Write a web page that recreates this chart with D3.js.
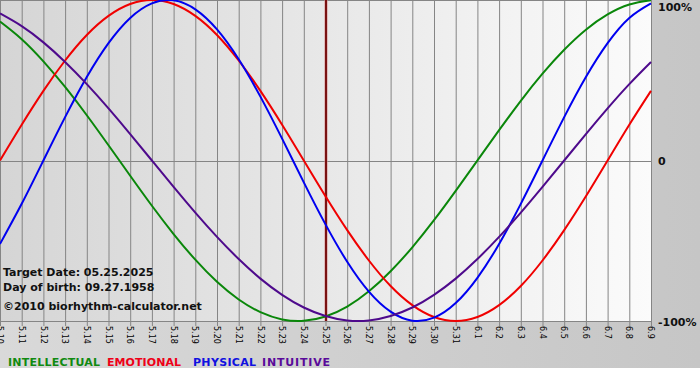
<!DOCTYPE html>
<html><head><meta charset="utf-8">
<script src="https://cdn.jsdelivr.net/npm/d3@7"></script>
<style>html,body{margin:0;padding:0;background:#fff;}svg{display:block;}</style>
</head><body>
<script>
const days = ["5.10","5.11","5.12","5.13","5.14","5.15","5.16","5.17","5.18","5.19","5.20","5.21","5.22","5.23","5.24","5.25","5.26","5.27","5.28","5.29","5.30","5.31","6.1","6.2","6.3","6.4","6.5","6.6","6.7","6.8","6.9"];
const intellectual = [86.6,75.6,61.8,45.8,28.2,9.5,-9.5,-28.2,-45.8,-61.8,-75.6,-86.6,-94.5,-99.0,-99.9,-97.2,-91.0,-81.5,-69.0,-54.1,-37.2,-18.9,0,18.9,37.2,54.1,69.0,81.5,91.0,97.2,99.9];
const emotional = [0,22.3,43.4,62.3,78.2,90.1,97.5,100,97.5,90.1,78.2,62.3,43.4,22.3,0,-22.3,-43.4,-62.3,-78.2,-90.1,-97.5,-100,-97.5,-90.1,-78.2,-62.3,-43.4,-22.3,0,22.3,43.4];
const physical = [-52.0,-27.0,0,27.0,52.0,73.1,88.8,97.9,99.8,94.2,81.7,63.1,39.8,13.6,-13.6,-39.8,-63.1,-81.7,-94.2,-99.8,-97.9,-88.8,-73.1,-52.0,-27.0,0,27.0,52.0,73.1,88.8,97.9];
const intuitive = [91.6,83.7,73.6,61.4,47.6,32.5,16.5,0,-16.5,-32.5,-47.6,-61.4,-73.6,-83.7,-91.6,-96.9,-99.7,-99.7,-96.9,-91.6,-83.7,-73.6,-61.4,-47.6,-32.5,-16.5,0,16.5,32.5,47.6,61.4];
const yTicks = [100, 0, -100];
const yTickLabels = ["100%", "0", "-100%"];
const targetDay = "5.25";
const infoLines = ["Target Date: 05.25.2025", "Day of birth: 09.27.1958"];
const credit = "\u00a92010 biorhythm-calculator.net";
const legendNames = ["INTELLECTUAL", "EMOTIONAL", "PHYSICAL", "INTUITIVE"];

const series = [
  {name: "INTELLECTUAL", values: intellectual, color: "#0a870a"},
  {name: "EMOTIONAL", values: emotional, color: "#f00000"},
  {name: "PHYSICAL", values: physical, color: "#0000f0"},
  {name: "INTUITIVE", values: intuitive, color: "#4e0a8c"}
];
const legendColors = {"INTELLECTUAL": "#118a11", "EMOTIONAL": "#ee0018", "PHYSICAL": "#1010e0", "INTUITIVE": "#5a0a9a"};
const legendX = {"INTELLECTUAL": 8, "EMOTIONAL": 107, "PHYSICAL": 193, "INTUITIVE": 262};
const legendLen = {"INTELLECTUAL": 92, "EMOTIONAL": 74, "PHYSICAL": 63, "INTUITIVE": 68};

const W = 700, H = 380;
const svg = d3.select("body").append("svg").attr("width", W).attr("height", H);
const defs = svg.append("defs");
const g1 = defs.append("linearGradient").attr("id","bgGrad").attr("x1","0").attr("x2","1").attr("y1","0").attr("y2","0");
g1.append("stop").attr("offset","0").attr("stop-color","#d9d9d9");
g1.append("stop").attr("offset","1").attr("stop-color","#c6c6c6");
const g2 = defs.append("linearGradient").attr("id","plotGrad").attr("x1","0").attr("x2","1").attr("y1","0").attr("y2","0");
g2.append("stop").attr("offset","0").attr("stop-color","#d5d5d5");
g2.append("stop").attr("offset","1").attr("stop-color","#fbfbfb");

svg.append("rect").attr("x",0).attr("y",0).attr("width",W).attr("height",368).attr("fill","url(#bgGrad)");

const x = d3.scalePoint().domain(days).range([0, 651]);
const y = d3.scaleLinear().domain([-100, 100]).range([321, 0]);

svg.append("rect").attr("x",0).attr("y",0).attr("width",651).attr("height",321).attr("fill","url(#plotGrad)");

// vertical grid lines
svg.append("g").selectAll("line").data(days).join("line")
  .attr("x1", d => x(d) + 0.5).attr("x2", d => x(d) + 0.5)
  .attr("y1", 0).attr("y2", 326)
  .attr("stroke", "#858585").attr("stroke-width", 1);

// horizontal lines
svg.append("g").selectAll("line").data(yTicks).join("line")
  .attr("x1", 0).attr("x2", 651)
  .attr("y1", d => Math.round(y(d)) + 0.5).attr("y2", d => Math.round(y(d)) + 0.5)
  .attr("stroke", "#858585").attr("stroke-width", 1);

// y labels
svg.append("g").selectAll("text").data(yTicks).join("text")
  .attr("x", 658)
  .attr("y", d => Math.max(7, Math.min(322, y(d) + 1)))
  .attr("dy", "0.36em")
  .attr("font-family", "DejaVu Sans").attr("font-weight", "bold").attr("font-size", 11)
  .attr("fill", "#111")
  .text((d, i) => yTickLabels[i]);

// x labels
svg.append("g").selectAll("text").data(days).join("text")
  .attr("transform", d => `translate(${x(d)},326) rotate(90)`)
  .attr("dy", "0.35em")
  .attr("font-family", "DejaVu Sans").attr("font-size", 8)
  .attr("fill", "#000")
  .text(d => d);

// info text
svg.append("g").selectAll("text").data(infoLines).join("text")
  .attr("x", 3).attr("y", (d, i) => 276 + i * 15)
  .attr("font-family", "DejaVu Sans").attr("font-weight", "bold").attr("font-size", 11)
  .attr("fill", "#111").text(d => d);
svg.append("text").attr("x", 3).attr("y", 310)
  .attr("font-family", "DejaVu Sans").attr("font-weight", "bold").attr("font-size", 11)
  .attr("fill", "#111").text(credit);

// target line
svg.append("line").attr("x1", x(targetDay) + 0.5).attr("x2", x(targetDay) + 0.5)
  .attr("y1", 0).attr("y2", 321).attr("stroke", "#d89090").attr("stroke-width", 3);
svg.append("line").attr("x1", x(targetDay) + 0.5).attr("x2", x(targetDay) + 0.5)
  .attr("y1", 0).attr("y2", 321).attr("stroke", "#7a1212").attr("stroke-width", 2);

// curves
const line = d3.line().x((d, i) => x(days[i])).y(d => y(d)).curve(d3.curveNatural);
svg.append("g").selectAll("path").data(series).join("path")
  .attr("d", d => line(d.values))
  .attr("fill", "none").attr("stroke", d => d.color).attr("stroke-width", 2);

// legend
svg.append("g").selectAll("text").data(legendNames).join("text")
  .attr("x", d => legendX[d]).attr("y", 366)
  .attr("textLength", d => legendLen[d]).attr("lengthAdjust", "spacing")
  .attr("font-family", "DejaVu Sans").attr("font-weight", "bold").attr("font-size", 11)
  .attr("fill", d => legendColors[d]).text(d => d);
</script>
</body></html>
